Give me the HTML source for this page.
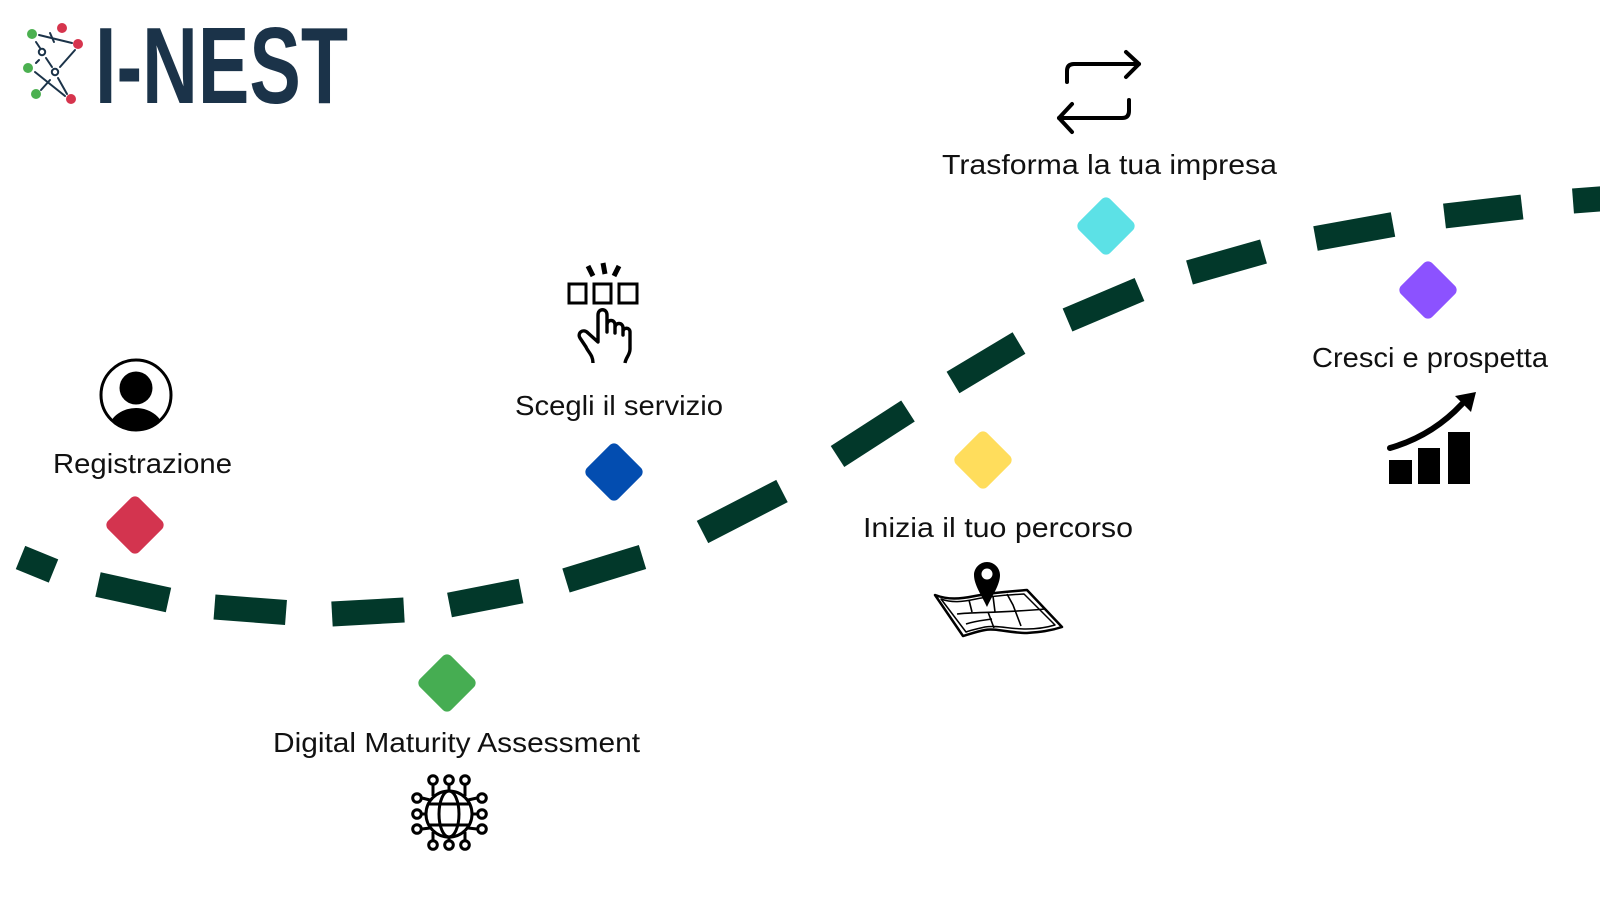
<!DOCTYPE html>
<html>
<head>
<meta charset="utf-8">
<style>
  html,body{margin:0;padding:0;background:#fff;}
  svg{display:block;}
  .lbl{font-family:"Liberation Sans",sans-serif;font-size:28px;fill:#111;}
</style>
</head>
<body>
<svg width="1600" height="900" viewBox="0 0 1600 900" xmlns="http://www.w3.org/2000/svg">
  <rect width="1600" height="900" fill="#fff"/>

  <!-- Logo icon -->
  <g stroke="#1b3349" stroke-width="2" fill="none" stroke-linecap="round">
    <line x1="39" y1="35" x2="72" y2="43"/>
    <line x1="50" y1="33" x2="54" y2="42"/>
    <line x1="36" y1="42" x2="40" y2="48"/>
    <line x1="75" y1="50" x2="60" y2="67"/>
    <line x1="36" y1="63" x2="39" y2="60"/>
    <line x1="46" y1="58" x2="52" y2="67"/>
    <line x1="35" y1="72" x2="65" y2="96"/>
    <line x1="58" y1="78" x2="67" y2="94"/>
    <line x1="41" y1="90" x2="50" y2="80"/>
    <circle cx="42" cy="52" r="3.2"/>
    <circle cx="55" cy="72" r="3.2"/>
  </g>
  <g>
    <circle cx="32" cy="34" r="5" fill="#4bb050"/>
    <circle cx="62" cy="28" r="5" fill="#d6344d"/>
    <circle cx="78" cy="44" r="5" fill="#d6344d"/>
    <circle cx="28" cy="68" r="5" fill="#4bb050"/>
    <circle cx="36" cy="94" r="5" fill="#4bb050"/>
    <circle cx="71" cy="99" r="5" fill="#d6344d"/>
  </g>
  <text x="95" y="103" font-family="Liberation Sans, sans-serif" font-weight="bold" font-size="109" fill="#1b3349" textLength="253" lengthAdjust="spacingAndGlyphs">I-NEST</text>

  <!-- Dashed path -->
  <g stroke="#02382a" stroke-width="25" stroke-linecap="butt" fill="none">
    <line x1="20.5" y1="557.5" x2="53.5" y2="571"/>
    <line x1="98" y1="584.5" x2="168.5" y2="600"/>
    <line x1="214.5" y1="607" x2="286" y2="612.5"/>
    <line x1="332" y1="614" x2="404" y2="610"/>
    <line x1="449.5" y1="605" x2="521" y2="591"/>
    <line x1="566" y1="580.5" x2="642.5" y2="557"/>
    <line x1="702.5" y1="532" x2="782" y2="491"/>
    <line x1="837.5" y1="456.5" x2="908" y2="411"/>
    <line x1="953" y1="382.5" x2="1019" y2="343"/>
    <line x1="1067.5" y1="320" x2="1139.5" y2="289.5"/>
    <line x1="1189.5" y1="272.5" x2="1263.5" y2="251.5"/>
    <line x1="1315.5" y1="238.5" x2="1393" y2="224.5"/>
    <line x1="1444.5" y1="216" x2="1522" y2="207"/>
    <line x1="1573" y1="201" x2="1612" y2="198"/>
  </g>

  <!-- Diamonds -->
  <rect x="113" y="503" width="44" height="44" rx="6" fill="#d3344f" transform="rotate(45 135 525)"/>
  <rect x="592" y="450" width="44" height="44" rx="6" fill="#034db0" transform="rotate(45 614 472)"/>
  <rect x="425" y="661" width="44" height="44" rx="6" fill="#46ad52" transform="rotate(45 447 683)"/>
  <rect x="961" y="438" width="44" height="44" rx="6" fill="#ffdd5c" transform="rotate(45 983 460)"/>
  <rect x="1084" y="204" width="44" height="44" rx="6" fill="#5ce1e6" transform="rotate(45 1106 226)"/>
  <rect x="1406" y="268" width="44" height="44" rx="6" fill="#8c52ff" transform="rotate(45 1428 290)"/>

  <!-- Labels -->
  <text class="lbl" x="53" y="473" textLength="179" lengthAdjust="spacingAndGlyphs">Registrazione</text>
  <text class="lbl" x="515" y="415" textLength="208" lengthAdjust="spacingAndGlyphs">Scegli il servizio</text>
  <text class="lbl" x="273" y="752" textLength="367" lengthAdjust="spacingAndGlyphs">Digital Maturity Assessment</text>
  <text class="lbl" x="863" y="537" textLength="270" lengthAdjust="spacingAndGlyphs">Inizia il tuo percorso</text>
  <text class="lbl" x="942" y="174" textLength="335" lengthAdjust="spacingAndGlyphs">Trasforma la tua impresa</text>
  <text class="lbl" x="1312" y="367" textLength="236" lengthAdjust="spacingAndGlyphs">Cresci e prospetta</text>

  <!-- Person icon -->
  <defs>
    <clipPath id="pc"><circle cx="136" cy="395" r="34"/></clipPath>
  </defs>
  <circle cx="136" cy="395" r="35" fill="#fff" stroke="#000" stroke-width="3"/>
  <g clip-path="url(#pc)">
    <circle cx="136" cy="388" r="16.5" fill="#000"/>
    <ellipse cx="136" cy="432" rx="28" ry="24" fill="#000"/>
  </g>

  <!-- Hand/select icon -->
  <g stroke="#000" fill="none" stroke-width="3">
    <rect x="569" y="284" width="17" height="19"/>
    <rect x="594" y="284" width="17" height="19"/>
    <rect x="619" y="284" width="18" height="19"/>
  </g>
  <g stroke="#000" stroke-width="5" stroke-linecap="butt">
    <line x1="588" y1="266" x2="593" y2="276"/>
    <line x1="603" y1="263" x2="605" y2="274"/>
    <line x1="619" y1="266" x2="614" y2="276"/>
  </g>
  <path d="M593 363 C593 355 588 352 586 347 L580 338 C577 333 583 328 588 333 L598 342 L598 315 C598 308 607 308 607 315 L607 332 L607 325 C607 319 615 319 615 325 L615 333 L615 328 C615 322 623 322 623 328 L623 335 L623 332 C623 327 630 327 630 332 L630 349 C630 355 626 357 625 363" fill="none" stroke="#000" stroke-width="3.4" stroke-linejoin="round"/>

  <!-- Arrows icon -->
  <g stroke="#000" stroke-width="4" fill="none" stroke-linecap="round" stroke-linejoin="round">
    <path d="M1067 82 L1067 71 Q1067 64 1074 64 L1139 64"/>
    <path d="M1126 52 L1139 64 L1126 77"/>
    <path d="M1129 100 L1129 111 Q1129 118 1122 118 L1059 118"/>
    <path d="M1072 104 L1059 118 L1072 132"/>
  </g>

  <!-- Chart icon -->
  <g fill="#000">
    <rect x="1389" y="460" width="23" height="24"/>
    <rect x="1418" y="448" width="22" height="36"/>
    <rect x="1448" y="432" width="22" height="52"/>
    <polygon points="1476,392 1455,396 1471,412"/>
  </g>
  <path d="M1390 448 Q1432 436 1462 404" stroke="#000" stroke-width="6" fill="none" stroke-linecap="round"/>

  <!-- Map icon -->
  <g stroke="#000" fill="#fff" stroke-width="2.5" stroke-linejoin="round">
    <path d="M935 595 C948 600 960 599 975 596 C990 593 1005 592 1027 590 L1062 627 C1050 631 1040 632 1027 633 C1010 633 995 628 985 630 C975 632 970 634 963 636 Z"/>
    <path d="M941 599 C952 603 962 602 976 599 C991 596 1006 595 1024 594 L1055 625 C1045 628 1037 629 1026 629 C1010 629 996 625 985 627 C976 629 971 630 966 632 Z" fill="none" stroke-width="1.5"/>
  </g>
  <g stroke="#000" stroke-width="1.6" fill="none">
    <path d="M969 600 L972 612"/>
    <path d="M993 596 L995 612"/>
    <path d="M1007 594 L1013 605 L1021 626"/>
    <path d="M957 614 C975 612 1000 613 1045 609"/>
    <path d="M966 624 C975 621 985 620 992 619"/>
    <path d="M988 612 L994 628"/>
  </g>
  <path d="M987 562 C994 562 1000 568 1000 575 C1000 585 992 596 987 607 C982 596 974 585 974 575 C974 568 980 562 987 562 Z" fill="#000"/>
  <circle cx="987" cy="574" r="5.5" fill="#fff"/>

  <!-- Globe icon -->
  <g stroke="#000" stroke-width="3" fill="none">
    <circle cx="449" cy="814" r="23"/>
    <ellipse cx="449" cy="814" rx="10" ry="23"/>
    <line x1="428" y1="804" x2="470" y2="804"/>
    <line x1="428" y1="825" x2="470" y2="825"/>
    <path d="M433 785 L433 796"/>
    <path d="M449 785 L449 791"/>
    <path d="M465 785 L465 796"/>
    <path d="M433 840 L433 832"/>
    <path d="M449 840 L449 837"/>
    <path d="M465 840 L465 832"/>
    <path d="M422 798 L430 800"/>
    <path d="M422 814 L426 814"/>
    <path d="M422 829 L430 828"/>
    <path d="M477 798 L468 800"/>
    <path d="M477 814 L472 814"/>
    <path d="M477 829 L468 828"/>
    <circle cx="433" cy="780" r="4.3"/>
    <circle cx="449" cy="780" r="4.3"/>
    <circle cx="465" cy="780" r="4.3"/>
    <circle cx="433" cy="845" r="4.3"/>
    <circle cx="449" cy="845" r="4.3"/>
    <circle cx="465" cy="845" r="4.3"/>
    <circle cx="417" cy="798" r="4.3"/>
    <circle cx="417" cy="814" r="4.3"/>
    <circle cx="417" cy="829" r="4.3"/>
    <circle cx="482" cy="798" r="4.3"/>
    <circle cx="482" cy="814" r="4.3"/>
    <circle cx="482" cy="829" r="4.3"/>
  </g>
</svg>
</body>
</html>
